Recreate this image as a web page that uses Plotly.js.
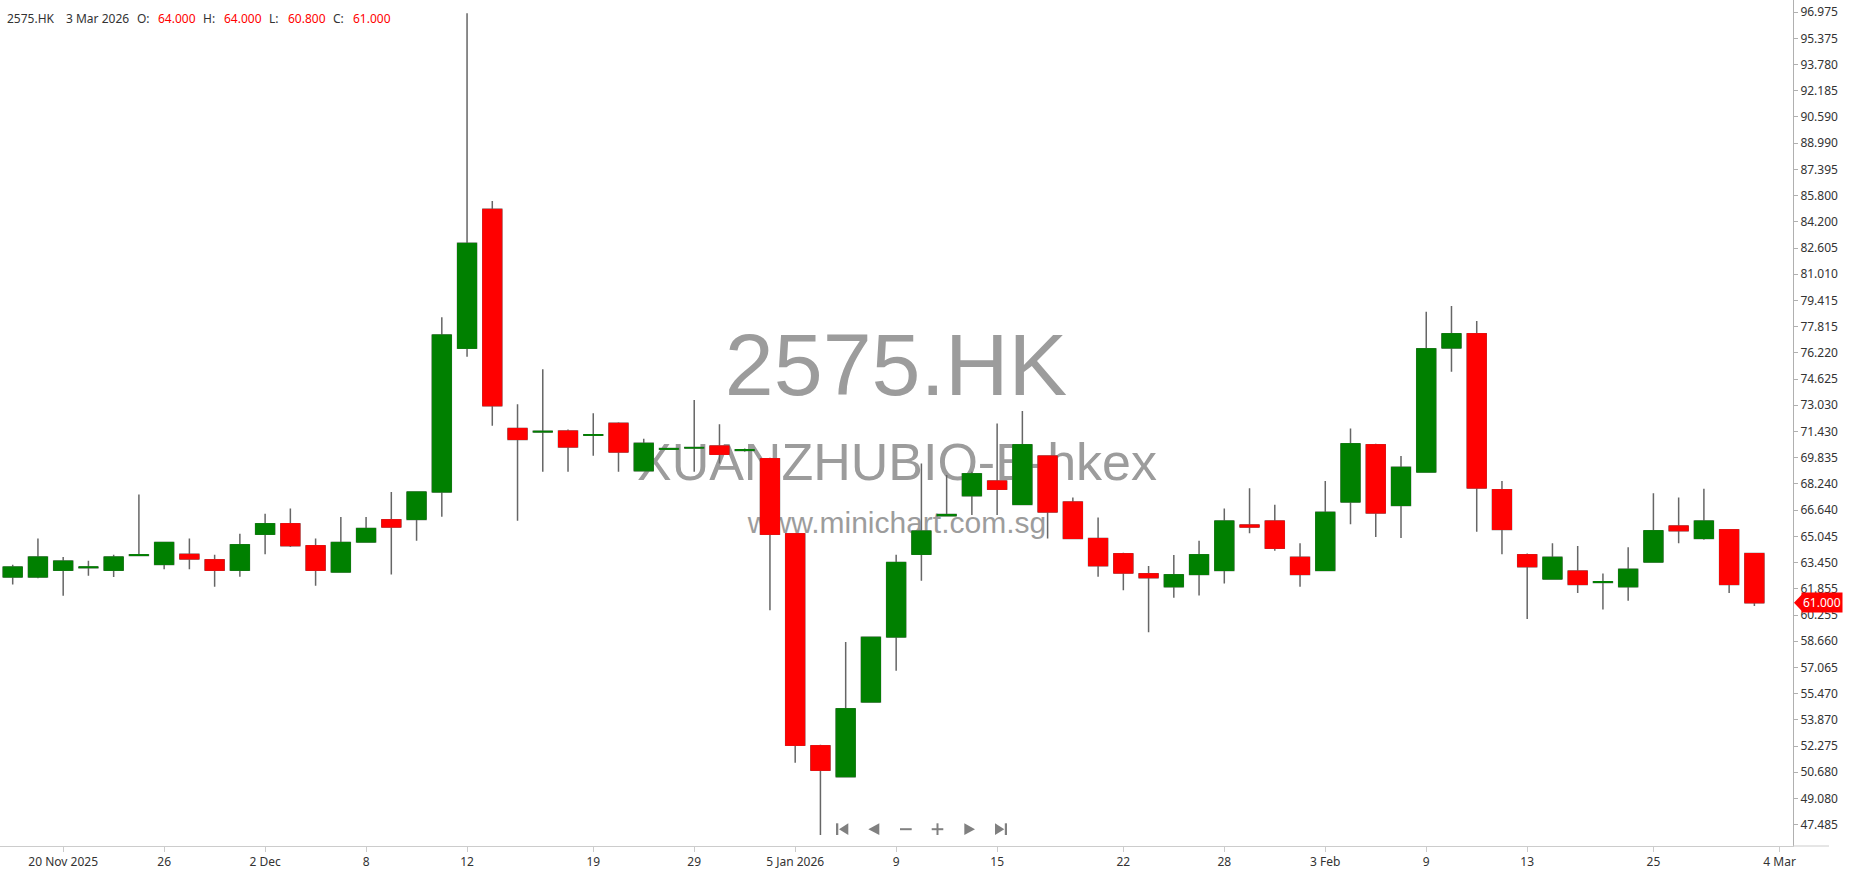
<!DOCTYPE html>
<html><head><meta charset="utf-8">
<script src="https://cdn.plot.ly/plotly-3.0.1.min.js"></script>
<style>html,body{margin:0;padding:0;background:#fff;overflow:hidden}#chart{width:1850px;height:874px}</style>
</head><body><div id="chart"></div>
<script>
const symbol = '2575.HK';
const companyName = 'XUANZHUBIO-B-hkex';
const siteName = 'www.minichart.com.sg';

const dates = ['2025-11-18','2025-11-19','2025-11-20','2025-11-21','2025-11-24','2025-11-25','2025-11-26','2025-11-27','2025-11-28',
'2025-12-01','2025-12-02','2025-12-03','2025-12-04','2025-12-05','2025-12-08','2025-12-09','2025-12-10','2025-12-11','2025-12-12',
'2025-12-15','2025-12-16','2025-12-17','2025-12-18','2025-12-19','2025-12-22','2025-12-23','2025-12-24','2025-12-29','2025-12-30','2025-12-31',
'2026-01-02','2026-01-05','2026-01-06','2026-01-07','2026-01-08','2026-01-09','2026-01-12','2026-01-13','2026-01-14','2026-01-15','2026-01-16',
'2026-01-19','2026-01-20','2026-01-21','2026-01-22','2026-01-23','2026-01-26','2026-01-27','2026-01-28','2026-01-29','2026-01-30',
'2026-02-02','2026-02-03','2026-02-04','2026-02-05','2026-02-06','2026-02-09','2026-02-10','2026-02-11','2026-02-12','2026-02-13',
'2026-02-16','2026-02-20','2026-02-23','2026-02-24','2026-02-25','2026-02-26','2026-02-27','2026-03-02','2026-03-03'];

const opens  = [62.57,62.57,62.98,63.14,62.98,63.88,63.34,63.95,63.62,62.98,65.17,65.82,64.48,62.87,64.70,66.06,66.08,67.75,76.50,84.96,
71.62,71.40,71.46,71.20,71.93,69.04,70.35,70.42,70.55,70.28,69.78,65.21,52.30,50.41,54.96,58.92,63.95,66.30,67.52,68.42,
66.99,69.94,67.14,64.92,63.99,62.77,61.98,62.73,62.97,65.74,65.98,63.77,62.97,67.14,70.63,66.93,68.96,76.52,77.39,67.89,
63.93,62.45,62.93,62.24,61.98,63.48,65.68,64.92,65.45,64.00];
const highs  = [63.32,64.92,63.79,63.56,63.93,67.60,64.70,64.92,63.93,65.21,66.42,66.75,64.92,66.22,66.22,67.75,67.78,78.39,96.90,85.47,
73.09,75.22,71.55,72.54,72.00,70.99,70.45,73.35,71.87,70.40,69.84,65.25,52.35,58.61,58.92,63.93,69.49,68.78,68.98,71.92,
72.68,69.98,67.42,66.20,64.05,63.24,63.91,64.78,66.75,67.97,66.97,64.62,68.42,71.62,70.69,69.94,78.73,79.07,78.16,68.42,
64.00,64.62,64.46,62.79,64.38,67.67,67.42,67.95,65.50,64.00];
const lows   = [62.12,62.49,61.43,62.65,62.57,63.85,63.04,63.04,61.98,62.59,63.95,64.40,62.04,62.85,64.68,62.73,64.78,66.24,75.99,71.78,
66.00,68.98,68.98,69.96,68.98,69.00,70.30,68.98,69.49,70.20,60.54,51.26,46.86,50.40,54.94,56.86,62.35,66.28,66.35,66.35,
66.95,64.92,64.90,62.59,61.76,59.20,61.31,61.45,62.18,65.23,64.17,61.98,62.95,65.78,65.00,64.94,68.94,75.07,65.33,63.95,
60.01,62.43,61.59,60.60,61.13,63.46,64.62,64.84,61.59,60.80];
const closes = [63.18,63.79,63.54,63.18,63.79,63.92,64.68,63.67,62.98,64.54,65.82,64.48,62.98,64.68,65.53,65.61,67.75,77.31,82.89,73.00,
70.95,71.44,70.49,71.24,70.18,70.71,70.39,70.46,70.04,70.32,65.17,52.32,50.80,54.55,58.90,63.46,65.37,66.38,68.86,67.91,
70.63,66.53,64.92,63.26,62.81,62.53,62.71,63.93,65.98,65.61,64.32,62.73,66.51,70.69,66.47,69.25,76.47,77.39,67.99,65.47,
63.20,63.77,62.12,62.29,63.04,65.39,65.39,65.98,62.12,61.00];

const yTickValues = [96.975,95.375,93.780,92.185,90.590,88.990,87.395,85.800,84.200,82.605,81.010,79.415,77.815,76.220,74.625,73.030,
71.430,69.835,68.240,66.640,65.045,63.450,61.855,60.255,58.660,57.065,55.470,53.870,52.275,50.680,49.080,47.485];
const xTickDates = ['2025-11-20','2025-11-26','2025-12-02','2025-12-08','2025-12-12','2025-12-19','2025-12-29','2026-01-05','2026-01-09',
'2026-01-15','2026-01-22','2026-01-28','2026-02-03','2026-02-09','2026-02-13','2026-02-25','2026-03-04'];
const xTickLabels = ['20 Nov 2025','26','2 Dec','8','12','19','29','5 Jan 2026','9','15','22','28','3 Feb','9','13','25','4 Mar'];

// ---------- layout helpers ----------
const W = 1850, H = 874, ML = 0, MR = 57, MT = 0, MB = 28;
const PW = W - ML - MR, PH = H - MT - MB;
const px = x => x / PW;
const py = y => 1 - y / PH;
const UI = 'Noto Sans, Open Sans, sans-serif';
const WM = 'Liberation Sans, Arial, sans-serif';
const Y_RANGE = [46.19, 97.71];

const xIdx = dates.map((d, i) => i);
const tickPos = xTickDates.map(d => { const k = dates.indexOf(d); return k >= 0 ? k : dates.length; });
const bodyTop = opens.map((o, i) => Math.max(o, closes[i]));
const bodyBot = opens.map((o, i) => Math.min(o, closes[i]));

const wickColor = '#666666';
const wickTrace = {
  type: 'candlestick', x: xIdx, open: opens, high: highs, low: lows, close: closes,
  increasing: {line: {color: wickColor, width: 1.5}, fillcolor: wickColor},
  decreasing: {line: {color: wickColor, width: 1.5}, fillcolor: wickColor},
  hoverinfo: 'skip', showlegend: false
};
const bodyTrace = {
  type: 'candlestick', x: xIdx, open: opens, high: bodyTop, low: bodyBot, close: closes,
  increasing: {line: {color: '#008000', width: 1}, fillcolor: '#008000'},
  decreasing: {line: {color: '#ff0000', width: 1}, fillcolor: '#ff0000'},
  hoverinfo: 'skip', showlegend: false
};

const n = dates.length;
const last = n - 1;
const months = ['Jan','Feb','Mar','Apr','May','Jun','Jul','Aug','Sep','Oct','Nov','Dec'];
const dp = dates[last].split('-');
const lastDateText = (+dp[2]) + ' ' + months[+dp[1] - 1] + ' ' + dp[0];

const dark = '#333333', red = '#ff0000';
const legendItems = [
  {t: symbol, x: 6, c: dark},
  {t: lastDateText, x: 65, c: dark},
  {t: 'O:', x: 136, c: dark}, {t: opens[last].toFixed(3), x: 157, c: red},
  {t: 'H:', x: 202, c: dark}, {t: highs[last].toFixed(3), x: 223, c: red},
  {t: 'L:', x: 268, c: dark}, {t: lows[last].toFixed(3), x: 287, c: red},
  {t: 'C:', x: 332, c: dark}, {t: closes[last].toFixed(3), x: 352, c: red}
];
const annotations = legendItems.map(it => ({
  xref: 'paper', yref: 'paper', x: px(it.x), y: py(18), xanchor: 'left', yanchor: 'middle',
  text: it.t, showarrow: false, font: {family: UI, size: 12, color: it.c}, borderpad: 0
}));

// last price tag
const lc = closes[last];
annotations.push({
  xref: 'paper', yref: 'y', x: px(1801), y: lc, xanchor: 'left', yanchor: 'middle',
  text: lc.toFixed(3), showarrow: false, bgcolor: red, borderpad: 1,
  font: {family: UI, size: 12, color: '#ffffff'}
});

const shapes = [];
// watermarks (drawn below the candles)
function wm(text, cx, cy, size) {
  shapes.push({
    type: 'rect', xref: 'paper', yref: 'paper', layer: 'below',
    x0: px(cx - 300), x1: px(cx + 300), y0: py(cy + 40), y1: py(cy - 40),
    line: {width: 0}, fillcolor: 'rgba(0,0,0,0)',
    label: {text: text, textposition: 'middle center', padding: 0,
            font: {family: WM, size: size, color: '#9c9c9c'}}
  });
}
wm(symbol, 896, 356, 88);
wm(companyName, 897, 457, 52);
wm(siteName, 897, 519, 30);

// price tag arrow
const dy = 8.5 / (PH / (Y_RANGE[1] - Y_RANGE[0]));
shapes.push({type: 'path', xref: 'paper', yref: 'y', layer: 'above',
  path: `M ${px(1794)},${lc} L ${px(1802)},${lc + dy} L ${px(1802)},${lc - dy} Z`,
  fillcolor: red, line: {width: 0}});

// x-axis line continues under the price scale
shapes.push({type: 'line', xref: 'paper', yref: 'paper', layer: 'above',
  x0: 1, x1: px(1829), y0: 0, y1: 0, line: {color: '#cccccc', width: 1}});

// navigation icons
const navC = '#808080';
function rect(x0, x1, y0, y1) {
  shapes.push({type: 'rect', xref: 'paper', yref: 'paper', layer: 'above',
    x0: px(x0), x1: px(x1), y0: py(y1), y1: py(y0), fillcolor: navC, line: {width: 0}});
}
function tri(pts) {
  const p = pts.map((q, i) => (i ? 'L ' : 'M ') + px(q[0]) + ',' + py(q[1])).join(' ') + ' Z';
  shapes.push({type: 'path', xref: 'paper', yref: 'paper', layer: 'above', path: p, fillcolor: navC, line: {width: 0}});
}
rect(836, 838.3, 823.3, 835);
tri([[839, 829.2], [848.3, 823.3], [848.3, 835]]);
tri([[868.3, 829.2], [879.3, 823.3], [879.3, 835]]);
rect(900, 911.7, 828.2, 830.2);
rect(931.7, 943.3, 828.2, 830.2);
rect(936.5, 938.5, 823.3, 835);
tri([[964.3, 823.3], [964.3, 835], [975, 829.2]]);
tri([[995, 823.3], [995, 835], [1004.3, 829.2]]);
rect(1004.8, 1007, 823.3, 835);

const layout = {
  width: W, height: H,
  margin: {l: ML, r: MR, t: MT, b: MB, pad: 0},
  paper_bgcolor: '#ffffff', plot_bgcolor: 'rgba(0,0,0,0)',
  showlegend: false, hovermode: false, dragmode: false,
  boxgap: 0.247, boxgroupgap: 0, boxmode: 'overlay',
  xaxis: {
    type: 'linear', range: [-0.503, 70.53], fixedrange: true,
    rangeslider: {visible: false},
    showgrid: false, zeroline: false, showline: true, linecolor: '#cccccc', linewidth: 1,
    ticks: 'outside', ticklen: 5, tickcolor: '#cccccc', tickwidth: 1,
    tickmode: 'array', tickvals: tickPos, ticktext: xTickLabels,
    tickfont: {family: UI, size: 12, color: dark}
  },
  yaxis: {
    side: 'right', range: Y_RANGE, fixedrange: true,
    showgrid: false, zeroline: false, showline: true, linecolor: '#b0b0b0', linewidth: 1,
    ticks: 'outside', ticklen: 4, tickcolor: '#b0b0b0', tickwidth: 1,
    tickmode: 'array', tickvals: yTickValues, ticktext: yTickValues.map(v => v.toFixed(3)),
    tickfont: {family: UI, size: 12, color: dark}
  },
  annotations: annotations,
  shapes: shapes
};

Plotly.newPlot('chart', [wickTrace, bodyTrace], layout, {displayModeBar: false, staticPlot: true});
</script>
</body></html>
